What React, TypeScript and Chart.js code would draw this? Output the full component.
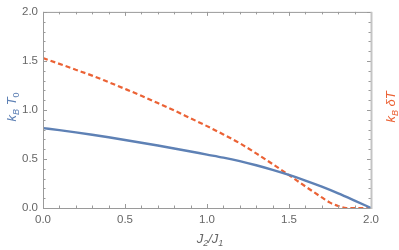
import React, { useEffect, useRef } from "react";
import { Chart, registerables } from "chart.js";

Chart.register(...registerables);

// J2/J1 sample positions
const blueX = [0, 0.1, 0.2, 0.3, 0.4, 0.5, 0.6, 0.7, 0.8, 0.9, 1.0, 1.1, 1.2, 1.3, 1.4, 1.5, 1.6, 1.7, 1.8, 1.9, 2.0];
// k_B T_0
const blueY = [0.815, 0.794, 0.771, 0.747, 0.721, 0.694, 0.666, 0.637, 0.607, 0.576, 0.545, 0.514, 0.478, 0.436, 0.389, 0.337, 0.28, 0.218, 0.15, 0.076, 0.0];

const orangeX = [0, 0.1, 0.2, 0.3, 0.4, 0.5, 0.6, 0.7, 0.8, 0.9, 1.0, 1.1, 1.2, 1.3, 1.4, 1.5, 1.6, 1.7, 1.75, 1.8, 1.85, 1.9, 2.0];
// k_B δT
const orangeY = [1.53, 1.47, 1.41, 1.35, 1.283, 1.215, 1.145, 1.07, 0.995, 0.915, 0.835, 0.75, 0.66, 0.557, 0.448, 0.335, 0.22, 0.108, 0.055, 0.02, 0.0, 0.0, 0.0];

const tickValues = [0, 0.5, 1.0, 1.5, 2.0];
const minorTickValues = [0, 0.1, 0.2, 0.3, 0.4, 0.5, 0.6, 0.7, 0.8, 0.9, 1.0, 1.1, 1.2, 1.3, 1.4, 1.5, 1.6, 1.7, 1.8, 1.9, 2.0];

const BLUE = "#5E81B5";
const ORANGE = "#EB6235";
const FRAME = "#9a9a9a";
const TEXT = "#666666";
const FONT = "'Liberation Sans', Arial, sans-serif";

type Part = { t: string; sub?: boolean; italic?: boolean };

function drawRich(ctx: CanvasRenderingContext2D, parts: Part[], cx: number, cy: number, size: number) {
  const subSize = Math.round(size * 0.7);
  const fontFor = (p: Part) => `${p.italic ? "italic " : ""}${p.sub ? subSize : size}px ${FONT}`;
  let total = 0;
  for (const p of parts) {
    ctx.font = fontFor(p);
    total += ctx.measureText(p.t).width;
  }
  let x = cx - total / 2;
  ctx.textBaseline = "alphabetic";
  ctx.textAlign = "left";
  const base = cy + size * 0.35;
  for (const p of parts) {
    ctx.font = fontFor(p);
    ctx.fillText(p.t, x, p.sub ? base + size * 0.25 : base);
    x += ctx.measureText(p.t).width;
  }
}

const framePlugin = {
  id: "frameTicks",
  afterDatasetsDraw(chart: any) {
    const { ctx, chartArea } = chart;
    const { left, right, top, bottom } = chartArea;
    const xs = chart.scales.x;
    const ys = chart.scales.y;
    ctx.save();
    // ticks
    ctx.strokeStyle = FRAME;
    ctx.lineWidth = 1;
    for (const v of minorTickValues) {
      const major = tickValues.some((m) => Math.abs(m - v) < 1e-9);
      const len = major ? 4 : 2.5;
      const px = Math.round(xs.getPixelForValue(v)) + 0.5;
      const py = Math.round(ys.getPixelForValue(v)) + 0.5;
      ctx.beginPath();
      ctx.moveTo(px, bottom);
      ctx.lineTo(px, bottom - len);
      ctx.moveTo(px, top);
      ctx.lineTo(px, top + len);
      ctx.moveTo(left, py);
      ctx.lineTo(left + len, py);
      ctx.moveTo(right, py);
      ctx.lineTo(right - len, py);
      ctx.stroke();
    }
    // frame
    ctx.beginPath();
    ctx.moveTo(left + 0.5, top + 0.5);
    ctx.lineTo(right, top + 0.5);
    ctx.moveTo(left + 0.5, top);
    ctx.lineTo(left + 0.5, bottom);
    ctx.moveTo(left, bottom + 0.5);
    ctx.lineTo(right, bottom + 0.5);
    ctx.stroke();
    ctx.strokeStyle = "#c4c4c4";
    ctx.lineWidth = 2;
    ctx.beginPath();
    ctx.moveTo(right + 0.5, top);
    ctx.lineTo(right + 0.5, bottom + 1);
    ctx.stroke();

    // titles
    const midY = (top + bottom) / 2 - 3;
    ctx.fillStyle = TEXT;
    drawRich(
      ctx,
      [
        { t: "J", italic: true },
        { t: "2", sub: true, italic: true },
        { t: "/", italic: true },
        { t: "J", italic: true },
        { t: "1", sub: true, italic: true },
      ],
      (left + right) / 2 + 3,
      238,
      13
    );

    ctx.save();
    ctx.translate(11, midY);
    ctx.rotate(-Math.PI / 2);
    ctx.fillStyle = BLUE;
    drawRich(
      ctx,
      [
        { t: "k", italic: true },
        { t: "B", sub: true, italic: true },
        { t: " T", italic: true },
        { t: "0", sub: true },
      ],
      0,
      0,
      13
    );
    ctx.restore();

    ctx.save();
    ctx.translate(390, midY);
    ctx.rotate(-Math.PI / 2);
    ctx.fillStyle = ORANGE;
    drawRich(
      ctx,
      [
        { t: "k", italic: true },
        { t: "B", sub: true, italic: true },
        { t: " δT", italic: true },
      ],
      0,
      0,
      13
    );
    ctx.restore();
    ctx.restore();
  },
};

export default function App() {
  const ref = useRef<HTMLCanvasElement | null>(null);

  useEffect(() => {
    document.body.style.margin = "0";
    if (!ref.current) return;
    const chart = new Chart(ref.current, {
      type: "line",
      data: {
        datasets: [
          {
            label: "kB T0",
            data: blueX.map((x, i) => ({ x, y: blueY[i] })),
            borderColor: BLUE,
            borderWidth: 2.4,
            pointRadius: 0,
            cubicInterpolationMode: "monotone",
            fill: false,
          },
          {
            label: "kB δT",
            data: orangeX.map((x, i) => ({ x, y: orangeY[i] })),
            borderColor: ORANGE,
            borderWidth: 2.2,
            borderDash: [5, 3],
            pointRadius: 0,
            cubicInterpolationMode: "monotone",
            fill: false,
            yAxisID: "y2",
          },
        ],
      },
      options: {
        animation: false,
        responsive: true,
        maintainAspectRatio: false,
        layout: { padding: { top: 6, left: 0, right: 0, bottom: 0 } },
        plugins: { legend: { display: false }, tooltip: { enabled: false } },
        scales: {
          x: {
            type: "linear",
            min: 0,
            max: 2,
            grid: { display: false, drawTicks: false },
            border: { display: false },
            afterBuildTicks: (s: any) => {
              s.ticks = tickValues.map((v) => ({ value: v }));
            },
            afterFit: (s: any) => {
              s.height = 42;
            },
            ticks: {
              padding: 5,
              color: TEXT,
              font: { family: FONT, size: 11.5 },
              maxRotation: 0,
              callback: (v: any) => Number(v).toFixed(1),
            },
          },
          y: {
            type: "linear",
            min: 0,
            max: 2,
            grid: { display: false, drawTicks: false },
            border: { display: false },
            afterBuildTicks: (s: any) => {
              s.ticks = tickValues.map((v) => ({ value: v }));
            },
            afterFit: (s: any) => {
              s.width = 43;
            },
            ticks: {
              padding: 5,
              color: TEXT,
              font: { family: FONT, size: 11.5 },
              callback: (v: any) => Number(v).toFixed(1),
            },
          },
          y2: {
            type: "linear",
            position: "right",
            min: 0,
            max: 2,
            grid: { display: false, drawTicks: false },
            border: { display: false },
            ticks: { display: false },
            afterFit: (s: any) => {
              s.width = 28;
            },
          },
        },
      },
      plugins: [framePlugin],
    } as any);
    return () => chart.destroy();
  }, []);

  return (
    <div style={{ position: "absolute", left: 0, top: 0, width: 399, height: 250 }}>
      <canvas ref={ref} />
    </div>
  );
}
